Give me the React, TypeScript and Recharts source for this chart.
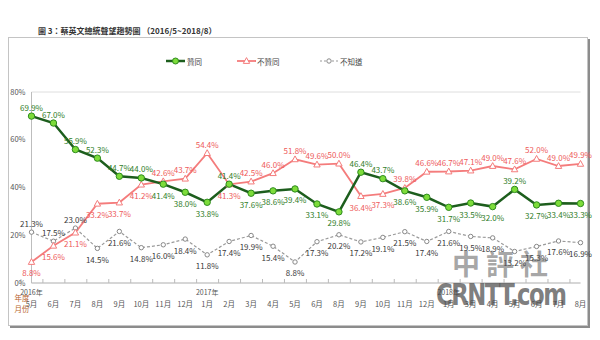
import React from 'react';
import { LineChart, Line, XAxis, YAxis, CartesianGrid, LabelList, Legend } from 'recharts';

const months = ['5月','6月','7月','8月','9月','10月','11月','12月','1月','2月','3月','4月','5月','6月','8月','9月','10月','11月','12月','1月','3月','4月','5月','6月','7月','8月'];
const years = ['2016年','','','','','','','','2017年','','','','','','','','','','','2018年','','','','','',''];
const approve = [69.9,67.0,55.9,52.3,44.7,44.0,41.4,38.0,33.8,41.4,37.6,38.6,39.4,33.1,29.8,46.4,43.7,38.6,35.9,31.7,33.5,32.0,39.2,32.7,33.4,33.3];
const disapprove = [8.8,15.6,21.1,33.2,33.7,41.2,42.6,43.7,54.4,41.3,42.5,46.0,51.8,49.6,50.0,36.4,37.3,39.8,46.6,46.7,47.1,49.0,47.6,52.0,49.0,49.9];
const unknown = [21.3,17.5,23.0,14.5,21.6,14.8,16.0,18.4,11.8,17.4,19.9,15.4,8.8,17.3,20.2,17.2,19.1,21.5,17.4,21.6,19.5,18.9,13.2,15.3,17.6,16.9];
const yTicks = [0, 20, 40, 60, 80];

// label placement (a = above, b = below)
const approvePlace = 'aaaaaabbbabbbbbaabbbbbabbb';
const disapprovePlace = 'bbbbbbaaabaaaaabbaaaaaaaaa';
const unknownPlace = 'aaabbbbbbbbbbbbbbbbbbbbbbb';

const data = months.map((m, i) => ({ k: i, approve: approve[i], disapprove: disapprove[i], unknown: unknown[i] }));

const FONT = '"Noto Sans CJK TC", "Noto Sans", sans-serif';
const GREEN_LINE = '#1d5e1d';
const GREEN_TEXT = '#2f7d28';
const RED_LINE = '#f47c7c';
const RED_TEXT = '#ee5a5a';
const GRAY_LINE = '#9a9a9a';
const BAND = 549 / 26;

const makeLabel = (color: string, place: string) => (props: any) => {
  const { x, y, value, index } = props;
  if (value == null) return null;
  const above = place[index] === 'a';
  return (
    <text x={x} y={y + (above ? -9 : 11)} fill={color} fontSize={8} fontFamily={FONT}
      textAnchor="middle" dominantBaseline="central">{Number(value).toFixed(1)}%</text>
  );
};

const Tick = (props: any) => {
  const { x, y, payload } = props;
  const i = payload.value;
  return (
    <g>
      <line x1={x - BAND / 2} x2={x - BAND / 2} y1={y - 4} y2={y} stroke="#bbb" />
      {years[i] ? (
        <text x={x} y={y + 9} fontSize={7} fill="#555" fontFamily={FONT} textAnchor="middle" dominantBaseline="central">{years[i]}</text>
      ) : null}
      <text x={x} y={y + 20} fontSize={7.5} fill="#555" fontFamily={FONT} textAnchor="middle" dominantBaseline="central">{months[i]}</text>
    </g>
  );
};

const Tri = (props: any) => {
  const { cx, cy } = props;
  if (cx == null) return null;
  return <path d={`M${cx},${cy - 3.4} L${cx + 3.2},${cy + 2.4} L${cx - 3.2},${cy + 2.4} Z`} fill="#fff" stroke={RED_LINE} strokeWidth={1} />;
};

const LegendContent = () => (
  <svg width={600} height={16} style={{ display: 'block' }}>
    <line x1={166} x2={185} y1={8} y2={8} stroke={GREEN_LINE} strokeWidth={2.5} />
    <circle cx={175.5} cy={8} r={3} fill="#7ddc3a" stroke="#2e8b1e" />
    <text x={187} y={8} fontSize={7.5} fill="#444" fontFamily={FONT} dominantBaseline="central">贊同</text>
    <line x1={237} x2={256} y1={8} y2={8} stroke={RED_LINE} strokeWidth={1.8} />
    <path d="M246.5,4.6 L249.7,10.4 L243.3,10.4 Z" fill="#fff" stroke={RED_LINE} />
    <text x={257} y={8} fontSize={7.5} fill="#444" fontFamily={FONT} dominantBaseline="central">不贊同</text>
    <line x1={320} x2={338} y1={8} y2={8} stroke={GRAY_LINE} strokeWidth={1.2} strokeDasharray="2 2" />
    <circle cx={329} cy={8} r={2.2} fill="#fff" stroke="#888" />
    <text x={340} y={8} fontSize={7.5} fill="#444" fontFamily={FONT} dominantBaseline="central">不知道</text>
  </svg>
);

export default function App() {
  return (
    <div style={{ position: 'absolute', left: 0, top: 0, width: 600, height: 340, background: '#fff', overflow: 'hidden' }}>
      <div style={{ position: 'absolute', left: 38, top: 25, fontSize: 8, fontWeight: 'bold', color: '#333', fontFamily: FONT, whiteSpace: 'nowrap', lineHeight: '12px' }}>
        圖 3：蔡英文總統聲望趨勢圖 （2016/5~2018/8）
      </div>
      <div style={{ position: 'absolute', left: 8, top: 37, width: 578, height: 287, border: '1px solid #c4c4c4', boxShadow: '2px 2px 0 #8c8c8c' }} />
      <div style={{ position: 'absolute', left: 11, top: 292, width: 22, fontSize: 7.5, color: '#b8652e', fontFamily: FONT, lineHeight: '11px', textAlign: 'center' }}>
        年度<br />月份
      </div>
      <div style={{ position: 'absolute', left: 0, top: 0 }}>
        <LineChart width={600} height={340} data={data} margin={{ top: 76, right: 19.5, bottom: 17, left: 0 }}>
          <Legend verticalAlign="top" content={LegendContent} wrapperStyle={{ position: 'absolute', top: 53, left: 0, width: 600 }} />
          <CartesianGrid vertical={false} stroke="#dedede" />
          <XAxis dataKey="k" height={40} tick={<Tick />} tickLine={false} tickSize={0} tickMargin={0} axisLine={{ stroke: '#bdbdbd' }} interval={0} />
          <YAxis yAxisId="l" domain={[0, 80]} ticks={yTicks} width={31.5} tickFormatter={(v: number) => `${v}%`}
            tick={{ fontSize: 7.5, fill: '#555', fontFamily: FONT }} tickLine={false} tickSize={0} tickMargin={6} axisLine={{ stroke: '#bdbdbd' }} />
          <YAxis yAxisId="r" orientation="right" domain={[0, 80]} ticks={yTicks} width={0} tick={false} tickLine={false} axisLine={{ stroke: '#d0d0d0' }} />
          <Line yAxisId="l" dataKey="unknown" stroke={GRAY_LINE} strokeWidth={1.2} strokeDasharray="3 2" isAnimationActive={false}
            dot={{ r: 2.2, fill: '#fff', stroke: '#888', strokeWidth: 1, strokeDasharray: '' }} activeDot={false}>
            <LabelList dataKey="unknown" content={makeLabel('#3a3a3a', unknownPlace)} />
          </Line>
          <Line yAxisId="l" dataKey="disapprove" stroke={RED_LINE} strokeWidth={1.8} isAnimationActive={false} dot={<Tri />} activeDot={false}>
            <LabelList dataKey="disapprove" content={makeLabel(RED_TEXT, disapprovePlace)} />
          </Line>
          <Line yAxisId="l" dataKey="approve" stroke={GREEN_LINE} strokeWidth={2.5} isAnimationActive={false}
            dot={{ r: 3.2, fill: '#7ddc3a', stroke: '#2e8b1e', strokeWidth: 1 }} activeDot={false}>
            <LabelList dataKey="approve" content={makeLabel(GREEN_TEXT, approvePlace)} />
          </Line>
        </LineChart>
      </div>
      <div style={{ position: 'absolute', left: 452, top: 246, fontSize: 28, fontWeight: 'bold', color: 'rgba(90,90,90,0.55)', fontFamily: FONT, letterSpacing: 6, whiteSpace: 'nowrap', lineHeight: '34px' }}>
        中評社
      </div>
      <div style={{ position: 'absolute', left: 436, top: 278, fontSize: 30, fontWeight: 'bold', color: 'rgba(70,70,70,0.7)', fontFamily: '"DejaVu Sans", sans-serif', whiteSpace: 'nowrap', lineHeight: '34px', letterSpacing: -2, transform: 'scaleX(0.76)', transformOrigin: 'left center' }}>
        CRNTT.com
      </div>
    </div>
  );
}
